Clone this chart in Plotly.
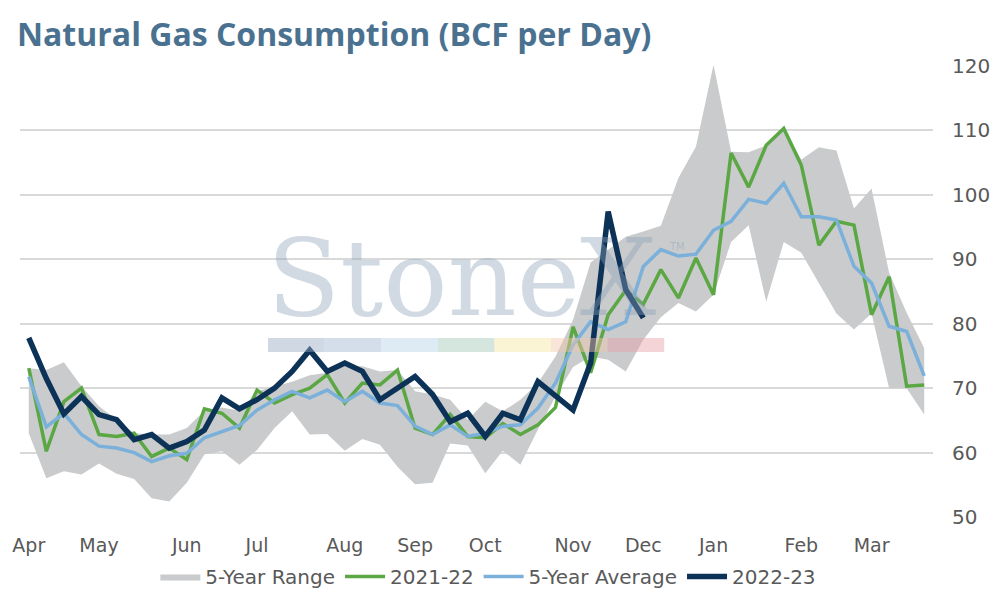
import plotly.graph_objects as go

# ---------------- data (weekly, Apr -> Mar, 52 weeks) ----------------
week = list(range(52))

month_labels = ["Apr", "May", "Jun", "Jul", "Aug", "Sep", "Oct", "Nov", "Dec", "Jan", "Feb", "Mar"]
month_week = [0, 4, 9, 13, 18, 22, 26, 31, 35, 39, 44, 48]

range_upper = [73.1, 72.8, 74.0, 70.3, 67.2, 65.1, 63.0, 62.8, 62.8, 63.8,
               66.5, 67.0, 66.5, 69.5, 70.3, 71.0, 72.0, 72.4, 73.4, 73.4,
               72.6, 72.8, 69.5, 69.0, 68.2, 65.1, 67.9, 66.4, 68.2, 70.8,
               74.9, 80.6, 89.5, 91.5, 93.5, 94.3, 95.2, 102.6, 107.5, 120.2,
               106.7, 106.6, 107.7, 110.3, 105.5, 107.4, 106.9, 97.9, 101.0, 87.9,
               81.7, 76.2]

range_lower = [63.0, 56.0, 57.1, 56.6, 58.3, 56.7, 55.9, 52.9, 52.4, 55.3,
               59.7, 60.2, 58.1, 60.4, 63.8, 66.4, 62.8, 62.9, 60.3, 62.1,
               61.2, 57.8, 55.1, 55.3, 61.4, 61.1, 56.8, 60.3, 58.1, 63.6,
               68.7, 73.3, 74.9, 74.4, 72.6, 77.5, 81.0, 83.2, 81.9, 84.5,
               92.7, 95.3, 83.4, 92.7, 91.0, 86.3, 81.6, 79.1, 81.6, 70.0,
               70.0, 65.9]

y2021_22 = [73.1, 60.2, 67.9, 70.0, 62.8, 62.5, 63.0, 59.4, 60.7, 58.9,
            66.8, 66.1, 63.8, 69.7, 67.7, 69.0, 70.0, 72.1, 67.7, 70.8,
            70.5, 72.8, 63.8, 62.8, 65.9, 62.5, 62.3, 64.5, 62.8, 64.3,
            67.0, 79.5, 72.4, 81.4, 85.2, 83.0, 88.4, 84.0, 90.2, 84.5,
            106.5, 101.2, 107.7, 110.3, 104.6, 92.2, 95.9, 95.3, 81.4, 87.3,
            70.3, 70.5]

avg5 = [71.8, 64.0, 66.1, 62.8, 61.0, 60.7, 60.0, 58.6, 59.5, 59.9,
        62.3, 63.3, 64.2, 66.6, 68.2, 69.5, 68.5, 69.7, 67.9, 69.5,
        67.7, 67.3, 64.1, 62.8, 64.3, 62.5, 63.0, 64.1, 64.3, 66.9,
        70.8, 76.7, 80.3, 79.1, 80.3, 88.9, 91.5, 90.5, 90.8, 94.5,
        95.9, 99.3, 98.7, 101.8, 96.6, 96.6, 96.1, 88.9, 86.3, 79.6,
        78.8, 71.9]

y2022_23 = [77.8, 71.5, 66.0, 68.7, 65.9, 65.1, 62.0, 62.8, 60.7, 61.7,
            63.5, 68.5, 66.8, 68.2, 70.0, 72.6, 75.9, 72.6, 73.9, 72.6,
            68.2, 70.0, 71.8, 69.0, 64.8, 66.1, 62.5, 66.1, 65.1, 71.0,
            68.8, 66.6, 73.9, 97.4, 85.3, 80.9]

# ---------------- styling ----------------
FONT = "DejaVu Sans"
TITLE_FONT = "Open Sans"
TXT = "#595959"
BAND = "#c9cbcc"
GREEN = "#5ba744"
BLUE = "#7bb0da"
NAVY = "#0c3357"

fig = go.Figure()

fig.add_trace(go.Scatter(x=week, y=range_lower, mode="lines",
                         line=dict(width=0, color=BAND), showlegend=False,
                         hoverinfo="skip"))
fig.add_trace(go.Scatter(x=week, y=range_upper, mode="lines", fill="tonexty",
                         fillcolor=BAND, line=dict(width=0, color=BAND),
                         name="5-Year Range"))
fig.add_trace(go.Scatter(x=week, y=y2021_22, mode="lines",
                         line=dict(width=3.5, color=GREEN), name="2021-22"))
fig.add_trace(go.Scatter(x=week, y=avg5, mode="lines",
                         line=dict(width=3.5, color=BLUE), name="5-Year Average"))
fig.add_trace(go.Scatter(x=week[:len(y2022_23)], y=y2022_23, mode="lines",
                         line=dict(width=5.5, color=NAVY), name="2022-23"))

# watermark stripe
stripe_colors = ["rgba(150,168,192,0.45)", "rgba(160,182,208,0.45)",
                 "rgba(190,215,236,0.5)", "rgba(170,205,188,0.5)",
                 "rgba(245,230,160,0.45)", "rgba(245,200,170,0.45)",
                 "rgba(232,160,168,0.45)"]
sx0 = (268 - 20) / 913
sw = 56.6 / 913
for k, c in enumerate(stripe_colors):
    fig.add_shape(type="rect", xref="paper", yref="paper",
                  x0=sx0 + k * sw, x1=sx0 + (k + 1) * sw,
                  y0=0.366, y1=0.397, fillcolor=c, line=dict(width=0),
                  layer="above")

fig.add_annotation(text="StoneX", xref="paper", yref="paper",
                   x=0.484, y=0.529, xanchor="center", yanchor="middle",
                   showarrow=False,
                   font=dict(family="DejaVu Serif", size=107,
                             color="rgba(140,160,185,0.4)"))
fig.add_annotation(text="TM", xref="paper", yref="paper",
                   x=(677 - 20) / 913, y=(517.3 - 247) / 451.3,
                   xanchor="center", yanchor="middle", showarrow=False,
                   font=dict(family=FONT, size=10, color="rgba(140,160,185,0.45)"))

fig.update_layout(
    width=994, height=600,
    margin=dict(l=20, r=61, t=66, b=83, autoexpand=False),
    paper_bgcolor="white", plot_bgcolor="white",
    title=dict(text="<b>Natural Gas Consumption (BCF per Day)</b>",
               x=17 / 994, xanchor="left", xref="container",
               y=1 - 35 / 600, yanchor="middle", yref="container",
               font=dict(family=TITLE_FONT, size=32, color="#4a7290")),
    font=dict(family=FONT, color=TXT),
    showlegend=True,
    legend=dict(orientation="h", x=0.513, xanchor="center",
                y=-0.132, yanchor="middle",
                font=dict(family=FONT, size=20, color=TXT),
                traceorder="normal", itemwidth=40,
                bgcolor="rgba(0,0,0,0)"),
    xaxis=dict(range=[-0.5, 51.5], tickmode="array", tickvals=month_week,
               ticktext=month_labels, showgrid=False, zeroline=False,
               showline=False, ticks="", ticklabelstandoff=15,
               automargin=False,
               tickfont=dict(family=FONT, size=19, color=TXT)),
    yaxis=dict(range=[50, 120], side="right", tickmode="array",
               tickvals=[50, 60, 70, 80, 90, 100, 110, 120],
               showgrid=True, gridcolor="#d9d9d9", gridwidth=1.8,
               zeroline=False, showline=False, ticks="",
               ticklabelstandoff=18, automargin=False,
               tickfont=dict(family=FONT, size=20, color=TXT)),
)

fig.write_html("out.html", config={"displayModeBar": False},
               post_script="document.body.style.margin='0px';document.body.style.overflow='hidden';")
